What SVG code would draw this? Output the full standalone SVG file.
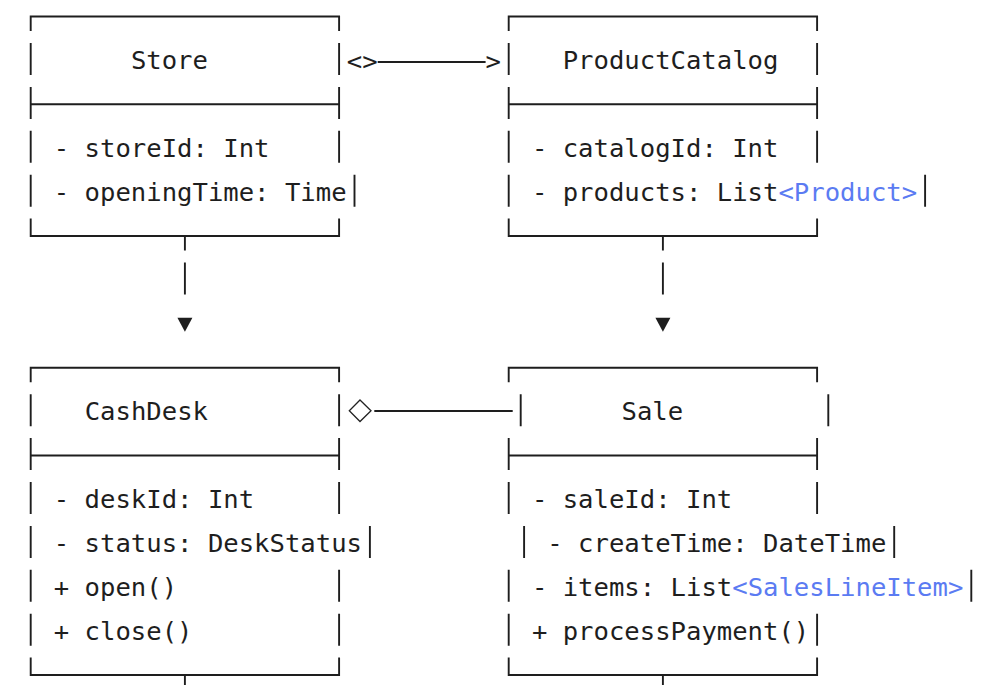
<svg xmlns="http://www.w3.org/2000/svg" width="995" height="685" viewBox="0 0 995 685">
<style>
  .bx { fill: none; stroke: #1e1e1e; stroke-width: 1.9; }
  .t { font-family: "DejaVu Sans Mono", "Liberation Mono", monospace; font-size: 25.6px; fill: #1e1e1e; }
  .g { fill: #5b7bf2; }
  .ah { fill: #1e1e1e; stroke: none; }
  .dm { fill: #fff; stroke: #222; stroke-width: 1.3; }
</style>
<rect width="995" height="685" fill="#fff"/>

<g id="node-store">
  <path class="bx" d="M30.7,31.1 V16.5 H339.1 V31.1 M30.7,43 V75 M339.1,43 V75 M30.7,86.9 V118.9 M30.7,104.3 H339.1 M339.1,86.9 V118.9 M30.7,130.8 V162.8 M339.1,130.8 V162.8 M30.7,174.7 V206.7 M354.5,174.7 V206.7 M30.7,218.6 V236 H339.1 V218.6"/>
  <text class="t" x="130.9" y="69">Store</text>
  <text class="t" x="53.8" y="156.8">- storeId: Int</text>
  <text class="t" x="53.8" y="200.7">- openingTime: Time</text>
</g>

<g id="node-productcatalog">
  <path class="bx" d="M508.7,31.1 V16.5 H817.1 V31.1 M508.7,43 V75 M817.1,43 V75 M508.7,86.9 V118.9 M508.7,104.3 H817.1 M817.1,86.9 V118.9 M508.7,130.8 V162.8 M817.1,130.8 V162.8 M508.7,174.7 V206.7 M925.1,174.7 V206.7 M508.7,218.6 V236 H817.1 V218.6"/>
  <text class="t" x="562.7" y="69">ProductCatalog</text>
  <text class="t" x="531.9" y="156.8">- catalogId: Int</text>
  <text class="t" x="531.9" y="200.7">- products: List<tspan class="g">&lt;Product&gt;</tspan></text>
</g>

<g id="node-cashdesk">
  <path class="bx" d="M30.7,382.3 V367.7 H339.1 V382.3 M30.7,394.2 V426.2 M339.1,394.2 V426.2 M30.7,438.1 V470.1 M30.7,455.5 H339.1 M339.1,438.1 V470.1 M30.7,482 V514 M339.1,482 V514 M30.7,525.9 V557.9 M369.9,525.9 V557.9 M30.7,569.8 V601.8 M339.1,569.8 V601.8 M30.7,613.7 V645.7 M339.1,613.7 V645.7 M30.7,657.6 V675 H339.1 V657.6"/>
  <text class="t" x="84.7" y="420.2">CashDesk</text>
  <text class="t" x="53.8" y="508">- deskId: Int</text>
  <text class="t" x="53.8" y="551.9">- status: DeskStatus</text>
  <text class="t" x="53.8" y="595.8">+ open()</text>
  <text class="t" x="53.8" y="639.7">+ close()</text>
</g>

<g id="node-sale">
  <path class="bx" d="M508.7,382.3 V367.7 H817.1 V382.3 M520.7,394.2 V426.2 M828.3,394.2 V426.2 M508.7,438.1 V470.1 M508.7,455.5 H817.1 M817.1,438.1 V470.1 M508.7,482 V514 M817.1,482 V514 M524.1,525.9 V557.9 M894.2,525.9 V557.9 M508.7,569.8 V601.8 M971.3,569.8 V601.8 M508.7,613.7 V645.7 M817.1,613.7 V645.7 M508.7,657.6 V675 H817.1 V657.6"/>
  <text class="t" x="621.5" y="420.2">Sale</text>
  <text class="t" x="531.9" y="508">- saleId: Int</text>
  <text class="t" x="547.3" y="551.9">- createTime: DateTime</text>
  <text class="t" x="531.9" y="595.8">- items: List<tspan class="g">&lt;SalesLineItem&gt;</tspan></text>
  <text class="t" x="531.9" y="639.7">+ processPayment()</text>
</g>

<g id="connectors">
  <!-- Store to ProductCatalog -->
  <text class="t" x="346.8" y="69.5">&lt;&gt;</text>
  <path class="bx" d="M377.7,62 H485.6"/>
  <text class="t" x="485.6" y="69.5">&gt;</text>
  <!-- Store down to CashDesk -->
  <path class="bx" d="M184.9,236 V250.6 M184.9,262.5 V294.5"/>
  <polygon class="ah" points="177.4,317.7 192.4,317.7 184.9,331.7"/>
  <!-- ProductCatalog down to Sale -->
  <path class="bx" d="M662.9,236 V250.6 M662.9,262.5 V294.5"/>
  <polygon class="ah" points="655.4,317.7 670.4,317.7 662.9,331.7"/>
  <!-- CashDesk to Sale (aggregation) -->
  <polygon class="dm" points="360,400 371,410.8 360,421.5 349.3,410.8"/>
  <path class="bx" d="M374.3,411 H512.7"/>
  <!-- stubs below lower boxes -->
  <path class="bx" d="M184.9,675 V689.6 M662.9,675 V689.6"/>
</g>
</svg>
